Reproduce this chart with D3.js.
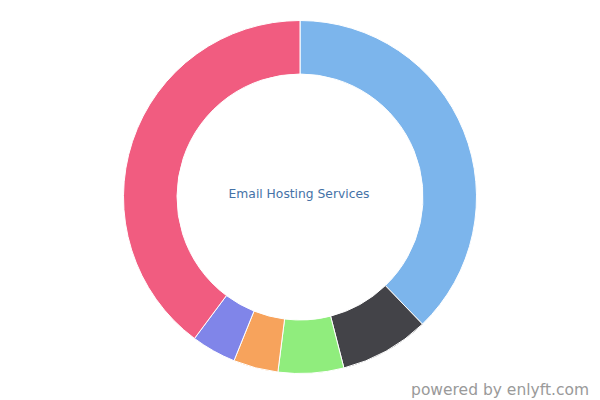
<!DOCTYPE html>
<html><head><meta charset="utf-8">
<script src="https://cdn.jsdelivr.net/npm/d3@7"></script>
<style>body{margin:0;background:#fff}svg{display:block}</style>
</head><body>
<svg id="c" width="600" height="400"></svg>
<script>
const categories = ["A", "B", "C", "D", "E", "F"];
const values = [37.8, 8.2, 6.0, 4.1, 4.1, 39.8];
const colors = ["#7cb5ec", "#434348", "#90ed7d", "#f7a35c", "#8085e9", "#f15c80"];
const title = "Email Hosting Services";
const credit = "powered by enlyft.com";

const svg = d3.select("#c");
const cx = 300, cy = 197, rOuter = 176.5, rInner = 123;
const pie = d3.pie().sort(null).value(d => d)(values);
const arc = d3.arc().innerRadius(rInner).outerRadius(rOuter);
const g = svg.append("g").attr("transform", `translate(${cx},${cy})`);
g.selectAll("path").data(pie).enter().append("path")
  .attr("d", arc)
  .attr("fill", (d, i) => colors[i])
  .attr("stroke", "#fff").attr("stroke-width", 1).attr("stroke-linejoin", "round");

svg.append("text").attr("x", cx - 1).attr("y", 198)
  .attr("text-anchor", "middle")
  .attr("font-family", "DejaVu Sans, sans-serif").attr("font-size", 12.3)
  .attr("fill", "#4572a7").text(title);

svg.append("text").attr("x", 589).attr("y", 395)
  .attr("text-anchor", "end")
  .attr("font-family", "DejaVu Sans, sans-serif").attr("font-size", 15.5)
  .attr("fill", "#9a9a9a").text(credit);
</script>
</body></html>
